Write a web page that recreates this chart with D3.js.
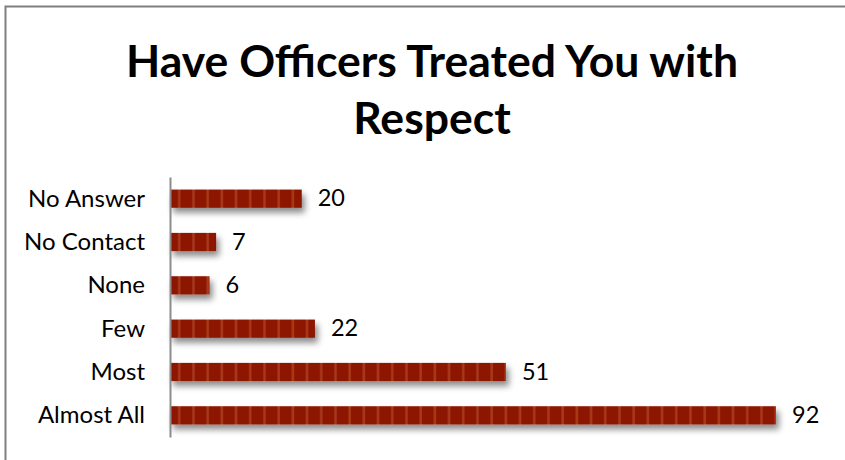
<!DOCTYPE html>
<html>
<head>
<meta charset="utf-8">
<script src="https://cdn.jsdelivr.net/npm/d3@7"></script>
<style>
  html, body { margin: 0; padding: 0; background: #fff; }
  svg { display: block; }
</style>
</head>
<body>
<svg id="chart" width="845" height="460"></svg>
<script>
// Survey responses, listed top to bottom
const categories = ["No Answer", "No Contact", "None", "Few", "Most", "Almost All"];
const counts = [20, 7, 6, 22, 51, 92];
const titleLines = ["Have Officers Treated You with", "Respect"];

const svg = d3.select("#chart");
const W = 845, H = 460;
const font = "Lato, 'Open Sans', sans-serif";

// Frame around the chart area
svg.append("rect")
  .attr("x", 5.5).attr("y", 6.5)
  .attr("width", W + 20).attr("height", H + 20)
  .attr("fill", "#fff")
  .attr("stroke", "#7f7f7f").attr("stroke-width", 2);

const defs = svg.append("defs");

// Vertical striped fill for the bars
const pat = defs.append("pattern")
  .attr("id", "stripes")
  .attr("patternUnits", "userSpaceOnUse")
  .attr("x", 170).attr("y", 0)
  .attr("width", 14.2).attr("height", 20);
pat.append("rect").attr("width", 14.2).attr("height", 20).attr("fill", "#8c1200");
pat.append("rect").attr("x", 8).attr("width", 2.6).attr("height", 20).attr("fill", "#a8391a");

// Soft drop shadow under each bar
const shadow = defs.append("filter").attr("id", "shadow")
  .attr("x", "-10%").attr("y", "-50%").attr("width", "130%").attr("height", "250%");
shadow.append("feDropShadow")
  .attr("dx", 3).attr("dy", 5).attr("stdDeviation", 3)
  .attr("flood-color", "#000").attr("flood-opacity", 0.45);

// Title
const title = svg.append("text")
  .attr("text-anchor", "middle")
  .attr("font-family", font)
  .attr("font-weight", "bold")
  .attr("font-size", 44.5)
  .attr("fill", "#000");
title.selectAll("tspan").data(titleLines).join("tspan")
  .attr("x", 432)
  .attr("y", (d, i) => 77 + i * 57)
  .text(d => d);

// Scales
const x = d3.scaleLinear().domain([0, 92]).range([170, 776]);
const y = d3.scaleBand().domain(categories).range([177, 437]).paddingInner(0.58).paddingOuter(0.29);

// Bars
svg.append("g").selectAll("rect").data(categories).join("rect")
  .attr("x", x(0))
  .attr("y", d => y(d))
  .attr("width", (d, i) => x(counts[i]) - x(0))
  .attr("height", y.bandwidth())
  .attr("fill", "url(#stripes)")
  .attr("filter", "url(#shadow)");

// Category axis
const axis = svg.append("g")
  .attr("transform", `translate(${x(0)},0)`)
  .call(d3.axisLeft(y).tickSize(0).tickPadding(25));
axis.select(".domain").attr("stroke", "#8c8c8c").attr("stroke-width", 2);
axis.selectAll("text")
  .attr("font-family", font)
  .attr("font-size", 24)
  .attr("dy", "0.33em")
  .attr("fill", "#000");

// Value labels
svg.append("g").selectAll("text").data(categories).join("text")
  .attr("x", (d, i) => x(counts[i]) + 16)
  .attr("y", d => y(d) + y.bandwidth() / 2)
  .attr("dy", "0.33em")
  .attr("font-family", font)
  .attr("font-size", 23.5)
  .attr("fill", "#000")
  .text((d, i) => counts[i]);
</script>
</body>
</html>
